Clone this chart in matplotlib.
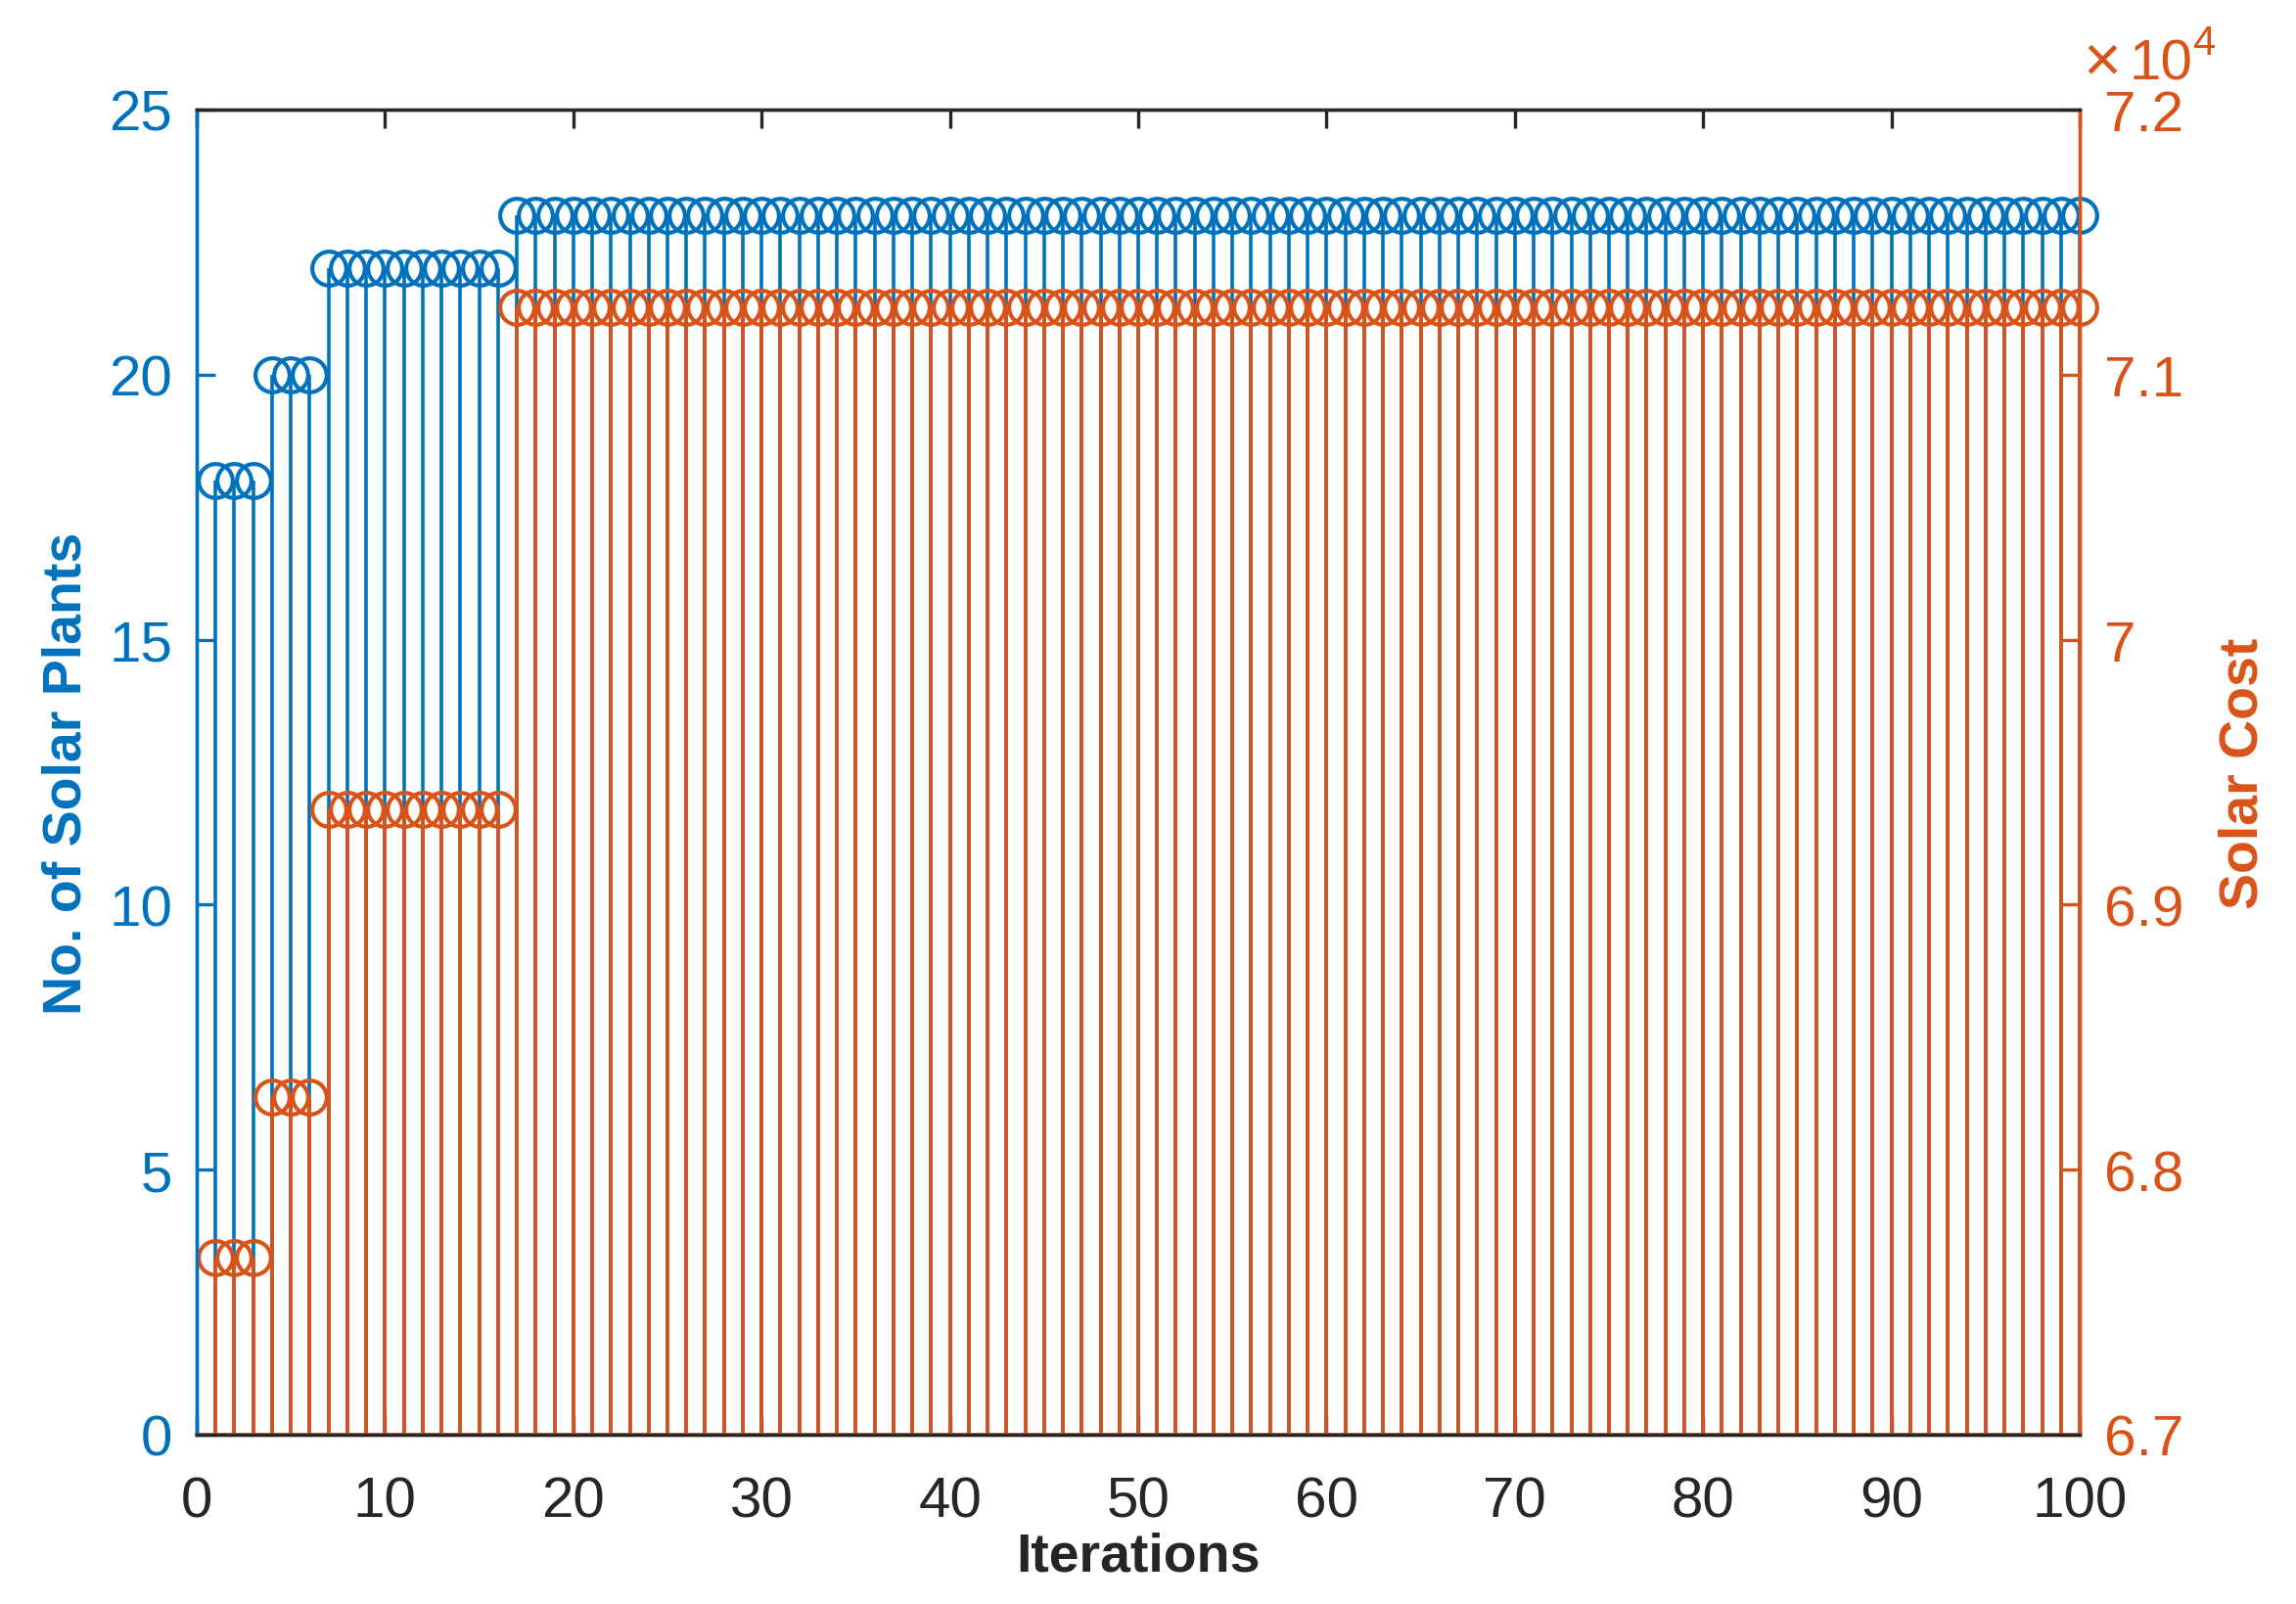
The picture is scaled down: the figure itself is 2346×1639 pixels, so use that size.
import matplotlib
matplotlib.use("Agg")
import matplotlib.pyplot as plt
import numpy as np

# values
iterations = np.arange(1, 101)
plants_levels = [18, 20, 22, 23]
cost_levels = [67668, 68273, 69359, 71254]
level_counts = [3, 3, 10, 84]

plants = np.repeat(plants_levels, level_counts)
cost = np.repeat(cost_levels, level_counts)

blue = "#0072BD"
orange = "#D95319"
dark = "#262626"

plt.rcParams['font.family'] = ['Liberation Sans', 'DejaVu Sans']

W, H = 2346, 1640
fig = plt.figure(figsize=(W / 100, H / 100), dpi=100)
left, right, top, bottom = 201, 2125, 113, 1467
ax1 = fig.add_axes([left / W, 1 - bottom / H, (right - left) / W, (bottom - top) / H])
ax2 = ax1.twinx()

stem_lw = 2.6
mk_size = 25
mk_ew = 3.0

# left axis: number of plants
m1, s1, b1 = ax1.stem(iterations, plants, basefmt=" ")
s1.set_color(blue)
s1.set_linewidth(stem_lw)
m1.set_color(blue)
m1.set_markerfacecolor("none")
m1.set_markersize(mk_size)
m1.set_markeredgewidth(mk_ew)
m1.set_clip_on(False)

# right axis: solar cost
m2, s2, b2 = ax2.stem(iterations, cost, bottom=67000, basefmt=" ")
s2.set_color(orange)
s2.set_linewidth(stem_lw)
m2.set_color(orange)
m2.set_markerfacecolor("none")
m2.set_markersize(mk_size)
m2.set_markeredgewidth(mk_ew)
m2.set_clip_on(False)
ax2.axhline(67000, color=orange, lw=stem_lw, clip_on=False)

ax1.set_xlim(0, 100)
ax1.set_ylim(0, 25)
ax2.set_ylim(67000, 72000)

ax1.set_xticks(np.arange(0, 101, 10))
ax1.set_yticks(np.arange(0, 26, 5))
ax2.set_yticks(np.arange(67000, 72001, 1000))
ax2.set_yticklabels(["6.7", "6.8", "6.9", "7", "7.1", "7.2"])

fs = 42
ax1.tick_params(axis="x", direction="in", length=14, width=2.4, top=True,
                labelsize=fs, colors=dark, pad=30)
ax1.tick_params(axis="y", direction="in", length=14, width=2.4,
                labelsize=fs, colors=blue, pad=18)
ax2.tick_params(axis="y", direction="in", length=14, width=2.4,
                labelsize=fs, colors=orange, pad=18)

for a in (ax1, ax2):
    for sp in a.spines.values():
        sp.set_linewidth(2.4)
        sp.set_color(dark)
    a.spines["left"].set_color(blue)
    a.spines["right"].set_color(orange)

ax1.set_xlabel("Iterations", fontsize=40, fontweight="bold", color=dark, labelpad=2)
ax1.set_ylabel("No. of Solar Plants", fontsize=40, fontweight="bold", color=blue, labelpad=12)
ax2.set_ylabel("Solar Cost", fontsize=40, fontweight="bold", color=orange, labelpad=25)

# exponent label
fig.text(2128 / W, 1 - 82 / H, "\u00d7", fontsize=48, color=orange, ha="left", va="baseline")
fig.text(2176 / W, 1 - 82 / H, "10", fontsize=fs, color=orange, ha="left", va="baseline")
fig.text(2241 / W, 1 - 56 / H, "4", fontsize=30, color=orange, ha="left", va="baseline")

fig.savefig("out.png", dpi=100, facecolor="white")
